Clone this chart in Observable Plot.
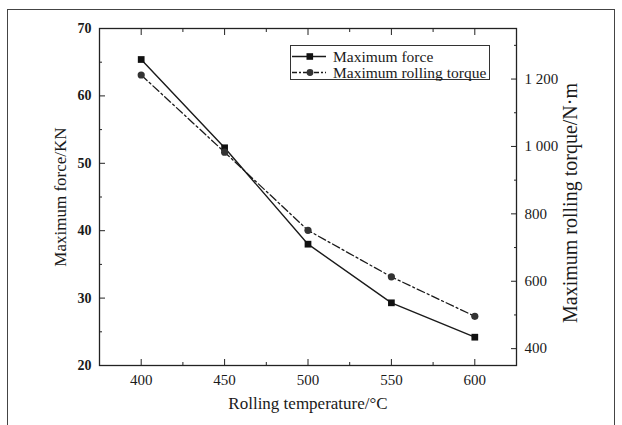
<!DOCTYPE html>
<html><head><meta charset="utf-8">
<script src="https://cdn.jsdelivr.net/npm/d3@7"></script>
<script src="https://cdn.jsdelivr.net/npm/@observablehq/plot@0.6"></script>
<style>
body{margin:0;background:#fff;font-family:"Liberation Serif","Times New Roman",serif;}
#wrap{position:relative;width:622px;height:425px;overflow:hidden;}
#border{position:absolute;left:7px;top:9px;width:608px;height:440px;border:1.5px solid #444;box-sizing:border-box;pointer-events:none;}
#legend{position:absolute;left:290px;top:45px;width:200px;height:35px;border:1px solid #333;box-sizing:border-box;background:#fff;}
#legend svg{position:absolute;left:0;top:0;}
</style></head><body>
<div id="wrap"><div id="chart"></div><div id="border"></div><div id="legend"></div></div>
<script>
// ---- data ----
const temperatures = [400, 450, 500, 550, 600];
const maxForce = [65.4, 52.3, 38.0, 29.3, 24.2];
const maxTorque = [1212, 983, 751, 613, 496];
const xTicks = [400, 450, 500, 550, 600];
const xMinorTicks = [425, 475, 525, 575];
const forceTicks = [20, 30, 40, 50, 60, 70];
const forceMinorTicks = [25, 35, 45, 55, 65];
const torqueTicks = [400, 600, 800, 1000, 1200];
const torqueTickLabels = ["400", "600", "800", "1 000", "1 200"];
const torqueMinorTicks = [500, 700, 900, 1100, 1300];
const seriesNames = ["Maximum force", "Maximum rolling torque"];

// ---- scales ----
const forceDomain = [20, 70];
const torqueDomain = [350, 1350];
const toLeft = t => forceDomain[0] + (t - torqueDomain[0]) * (forceDomain[1] - forceDomain[0]) / (torqueDomain[1] - torqueDomain[0]);
const fromLeft = f => torqueDomain[0] + (f - forceDomain[0]) * (torqueDomain[1] - torqueDomain[0]) / (forceDomain[1] - forceDomain[0]);

const data = temperatures.map((t, i) => ({t, force: maxForce[i], torque: maxTorque[i], torqueY: toLeft(maxTorque[i])}));
const ink = "#1a1a1a";
const font = "'Liberation Serif','Times New Roman',serif";

const chart = Plot.plot({
  width: 622, height: 425,
  marginLeft: 99, marginRight: 106, marginTop: 28, marginBottom: 60,
  style: {fontFamily: font, fontSize: "15px", color: ink, background: "transparent", overflow: "visible"},
  x: {domain: [375, 625], label: null},
  y: {domain: forceDomain, label: null},
  marks: [
    Plot.frame({stroke: "#222", strokeWidth: 1.3}),
    // bottom axis
    Plot.axisX(xTicks, {anchor: "bottom", tickSize: 0, tickPadding: 9, fontSize: 15, label: null}),
    Plot.axisX(xTicks, {anchor: "bottom", tickSize: -6, tickFormat: () => "", label: null, stroke: "#222"}),
    Plot.axisX(xMinorTicks, {anchor: "bottom", tickSize: -3, tickFormat: () => "", label: null, stroke: "#222"}),
    // top axis ticks
    Plot.axisX(xTicks, {anchor: "top", tickSize: -6, tickFormat: () => "", label: null, stroke: "#222"}),
    Plot.axisX(xMinorTicks, {anchor: "top", tickSize: -3, tickFormat: () => "", label: null, stroke: "#222"}),
    // left axis
    Plot.axisY(forceTicks, {anchor: "left", tickSize: 0, tickPadding: 8, fontSize: 14, fontWeight: "bold", label: null}),
    Plot.axisY(forceTicks, {anchor: "left", tickSize: -6, tickFormat: () => "", label: null, stroke: "#222"}),
    Plot.axisY(forceMinorTicks, {anchor: "left", tickSize: -3, tickFormat: () => "", label: null, stroke: "#222"}),
    // right axis
    Plot.axisY(torqueTicks.map(toLeft), {anchor: "right", tickSize: 0, tickPadding: 8, fontSize: 15, label: null,
      tickFormat: d => torqueTickLabels[torqueTicks.indexOf(Math.round(fromLeft(d)))]}),
    Plot.axisY(torqueTicks.map(toLeft), {anchor: "right", tickSize: -6, tickFormat: () => "", label: null, stroke: "#222"}),
    Plot.axisY(torqueMinorTicks.map(toLeft), {anchor: "right", tickSize: -3, tickFormat: () => "", label: null, stroke: "#222"}),
    // axis titles
    Plot.text(["Rolling temperature/°C"], {frameAnchor: "bottom", textAnchor: "middle", dy: 43, fontSize: 17}),
    Plot.text(["Maximum force/KN"], {frameAnchor: "left", textAnchor: "middle", rotate: -90, dx: -39, fontSize: 17}),
    Plot.text(["Maximum rolling torque/N·m"], {frameAnchor: "right", textAnchor: "middle", rotate: -90, dx: 54, dy: 6, fontSize: 20}),
    // series
    Plot.line(data, {x: "t", y: "force", stroke: ink, strokeWidth: 1.4}),
    Plot.line(data, {x: "t", y: "torqueY", stroke: ink, strokeWidth: 1.3, strokeDasharray: "8,3,2,3"}),
    Plot.dot(data, {x: "t", y: "force", symbol: "square", r: 3.8, fill: "#111", stroke: "none"}),
    Plot.dot(data, {x: "t", y: "torqueY", symbol: "circle", r: 3.6, fill: "#333", stroke: "none"})
  ]
});
document.getElementById("chart").appendChild(chart);

// ---- legend ----
const lg = d3.select("#legend").append("svg").attr("width", 200).attr("height", 35);
const rows = [
  {name: seriesNames[0], dash: null, sym: "square"},
  {name: seriesNames[1], dash: "5,2,2,2", sym: "circle"}
];
rows.forEach((r, i) => {
  const y = 10.5 + i * 16;
  const g = lg.append("g").attr("transform", `translate(0,${y})`);
  g.append("line").attr("x1", 1).attr("x2", 35).attr("y1", 0).attr("y2", 0)
    .attr("stroke", ink).attr("stroke-width", 1.3).attr("stroke-dasharray", r.dash);
  if (r.sym === "square") g.append("rect").attr("x", 15.5).attr("y", -3.3).attr("width", 6.6).attr("height", 6.6).attr("fill", "#111");
  else g.append("circle").attr("cx", 19).attr("cy", 0).attr("r", 3.4).attr("fill", "#333");
  g.append("text").attr("x", 42).attr("y", 0).attr("dy", "0.35em")
    .attr("font-family", font).attr("font-size", 15.5).attr("fill", ink).text(r.name);
});
</script>
</body></html>
